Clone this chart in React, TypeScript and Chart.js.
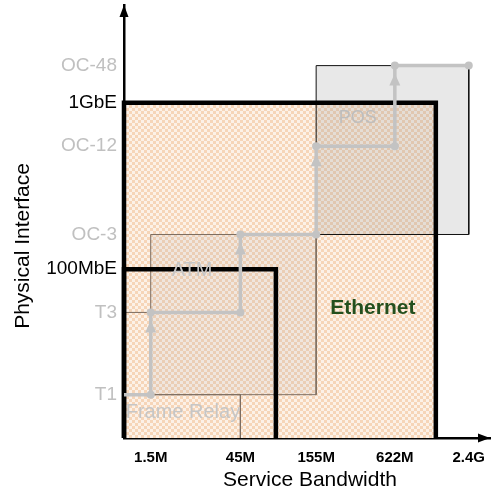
import React, { useEffect, useRef } from "react";
import { Chart, registerables } from "chart.js";

Chart.register(...registerables);

// ---- data ----
const bandwidthLabels = ["1.5M", "45M", "155M", "622M", "2.4G"];
const bandwidthValues = [7.3, 31.8, 52.5, 74, 94.2];

const interfaceLabels = ["T1", "T3", "100MbE", "OC-3", "OC-12", "1GbE", "OC-48"];
const interfaceValues = [10, 29, 39, 47, 67.4, 77.4, 86];
const interfaceIsEthernet = [false, false, true, false, false, true, false];

const ethernetMaxBandwidth = 85.2; // 1GbE service range
const fastEthernetMaxBandwidth = 41.5; // 100MbE service range

// upgrade path for legacy technologies: [bandwidth, interface]
const upgradePath: [string, string][] = [
  ["origin", "T1"],
  ["1.5M", "T1"],
  ["1.5M", "T3"],
  ["45M", "T3"],
  ["45M", "OC-3"],
  ["155M", "OC-3"],
  ["155M", "OC-12"],
  ["622M", "OC-12"],
  ["622M", "OC-48"],
  ["2.4G", "OC-48"],
];

const technologyNames = ["Ethernet", "ATM", "POS", "Frame Relay"];
const technologyLabelX = [68, 18.6, 63.9, 16.1];
const technologyLabelY = [30, 38.6, 73.9, 5.8];

// ---- helpers ----
const bw = (l: string) => (l === "origin" ? 0 : bandwidthValues[bandwidthLabels.indexOf(l)]);
const itf = (l: string) => (l === "origin" ? 0 : interfaceValues[interfaceLabels.indexOf(l)]);

const rectOpen = (x0: number, x1: number, y0: number, y1: number) => [
  { x: x0, y: y0 },
  { x: x0, y: y1 },
  { x: x1, y: y1 },
  { x: x1, y: y0 },
];
const rectClosed = (x0: number, x1: number, y0: number, y1: number) => [
  ...rectOpen(x0, x1, y0, y1),
  { x: x0, y: y0 },
];

const SANS = '"Liberation Sans", Arial, sans-serif';

function makeChecker(): CanvasPattern | string {
  const c = document.createElement("canvas");
  c.width = 6;
  c.height = 6;
  const g = c.getContext("2d");
  if (!g) return "#fbe8d8";
  g.fillStyle = "#fcf1e7";
  g.fillRect(0, 0, 6, 6);
  g.fillStyle = "#f6d5b8";
  g.fillRect(0, 0, 3, 3);
  g.fillRect(3, 3, 3, 3);
  return g.createPattern(c, "repeat") || "#fbe8d8";
}

const overlayPlugin = {
  id: "overlay",
  afterDatasetsDraw(chart: any) {
    const { ctx, scales } = chart;
    const xs = scales.x;
    const ys = scales.y;
    // arrow heads on the vertical steps of the upgrade path
    ctx.save();
    ctx.fillStyle = "#c3c3c3";
    for (let i = 1; i < upgradePath.length; i++) {
      const [ax, ay] = upgradePath[i - 1];
      const [bx, by] = upgradePath[i];
      if (ax === bx && itf(by) > itf(ay)) {
        const px = xs.getPixelForValue(bw(bx));
        const py = ys.getPixelForValue(itf(by));
        const tip = py + 8;
        ctx.beginPath();
        ctx.moveTo(px, tip);
        ctx.lineTo(px - 5.5, tip + 12);
        ctx.lineTo(px + 5.5, tip + 12);
        ctx.closePath();
        ctx.fill();
      }
    }
    // technology labels
    ctx.textAlign = "center";
    ctx.textBaseline = "middle";
    technologyNames.forEach((name, i) => {
      const px = xs.getPixelForValue(technologyLabelX[i]);
      const py = ys.getPixelForValue(technologyLabelY[i]);
      if (name === "Ethernet") {
        ctx.fillStyle = "#234f1e";
        ctx.font = `bold 21px ${SANS}`;
      } else if (name === "POS") {
        ctx.fillStyle = "#bdbdbd";
        ctx.font = `18px ${SANS}`;
      } else {
        ctx.fillStyle = "#c6c6c6";
        ctx.font = `20px ${SANS}`;
      }
      ctx.fillText(name, px, py);
    });
    ctx.restore();
  },
  afterDraw(chart: any) {
    const { ctx, chartArea } = chart;
    const { left, right, top, bottom } = chartArea;
    ctx.save();
    ctx.fillStyle = "#000";
    // y axis arrow
    ctx.beginPath();
    ctx.moveTo(left, top);
    ctx.lineTo(left - 4.5, top + 12);
    ctx.lineTo(left + 4.5, top + 12);
    ctx.closePath();
    ctx.fill();
    // x axis arrow
    ctx.beginPath();
    ctx.moveTo(right, bottom);
    ctx.lineTo(right - 12, bottom - 4.5);
    ctx.lineTo(right - 12, bottom + 4.5);
    ctx.closePath();
    ctx.fill();
    // axis titles
    ctx.font = `21px ${SANS}`;
    ctx.textAlign = "center";
    ctx.textBaseline = "middle";
    ctx.fillText("Service Bandwidth", 310, 480);
    ctx.translate(23, 246);
    ctx.rotate(-Math.PI / 2);
    ctx.fillText("Physical Interface", 0, 0);
    ctx.restore();
  },
};

export default function App() {
  const ref = useRef<HTMLCanvasElement | null>(null);

  useEffect(() => {
    if (!ref.current) return;
    const checker = makeChecker();
    const gbe = itf("1GbE");
    const fe = itf("100MbE");
    const line = (data: any[], extra: any) => ({
      type: "line",
      data,
      showLine: true,
      pointRadius: 0,
      pointHoverRadius: 0,
      borderWidth: 0,
      fill: false,
      tension: 0,
      clip: 12,
      ...extra,
    });

    const bottomToTop = [
      line(rectOpen(0, ethernetMaxBandwidth, 0, gbe), {
        backgroundColor: checker,
        borderColor: "transparent",
        fill: "origin",
      }),
      line(rectOpen(bw("155M"), bw("2.4G"), itf("OC-3"), itf("OC-48")), {
        backgroundColor: "rgba(150,150,150,0.22)",
        borderColor: "transparent",
        fill: { value: itf("OC-3") },
      }),
      line(rectClosed(bw("155M"), bw("2.4G"), itf("OC-3"), itf("OC-48")), {
        borderColor: "#111",
        borderWidth: 1,
      }),
      line(rectOpen(bw("1.5M"), bw("155M"), itf("T1"), itf("OC-3")), {
        backgroundColor: "rgba(160,160,160,0.13)",
        borderColor: "transparent",
        fill: { value: itf("T1") },
      }),
      line(rectClosed(bw("1.5M"), bw("155M"), itf("T1"), itf("OC-3")), {
        borderColor: "#7d6d60",
        borderWidth: 1,
      }),
      line(
        [
          { x: 0, y: itf("T3") },
          { x: bw("1.5M"), y: itf("T3") },
          { x: bw("1.5M"), y: itf("T1") },
          { x: bw("45M"), y: itf("T1") },
          { x: bw("45M"), y: 0 },
        ],
        { borderColor: "#7d6d60", borderWidth: 1 }
      ),
      line(rectOpen(0, ethernetMaxBandwidth, 0, gbe), {
        borderColor: "#000",
        borderWidth: 4.5,
        borderJoinStyle: "miter",
      }),
      line(rectOpen(0, fastEthernetMaxBandwidth, 0, fe), {
        borderColor: "#000",
        borderWidth: 4.5,
        borderJoinStyle: "miter",
      }),
      line(
        upgradePath.map(([b, i]) => ({ x: bw(b), y: itf(i) })),
        {
          borderColor: "#c3c3c3",
          borderWidth: 3.5,
          pointRadius: upgradePath.map((_, k) => (k === 0 ? 0 : 4)),
          pointBackgroundColor: "#c3c3c3",
          pointBorderWidth: 0,
        }
      ),
    ];

    const noPad = (s: any) => {
      s.paddingTop = 0;
      s.paddingBottom = 0;
      s.paddingLeft = 0;
      s.paddingRight = 0;
    };

    const chart = new Chart(ref.current, {
      type: "line",
      data: { datasets: bottomToTop.slice().reverse() as any },
      options: {
        responsive: false,
        animation: false,
        events: [],
        layout: { padding: { top: 5, right: 5, left: 0, bottom: 0 } },
        plugins: { legend: { display: false }, tooltip: { enabled: false } },
        scales: {
          x: {
            type: "linear",
            min: 0,
            max: 100,
            grid: { display: false, drawTicks: false },
            border: { display: true, color: "#000", width: 2.5 },
            afterBuildTicks: (s: any) => {
              s.ticks = bandwidthValues.map((v) => ({ value: v }));
            },
            afterFit: (s: any) => {
              s.height = 53;
              noPad(s);
            },
            ticks: {
              autoSkip: false,
              maxRotation: 0,
              padding: 11,
              color: "#000",
              font: { family: SANS, size: 15, weight: "bold" },
              callback: (_v: any, i: number) => bandwidthLabels[i],
            },
          },
          y: {
            type: "linear",
            min: 0,
            max: 100,
            grid: { display: false, drawTicks: false },
            border: { display: true, color: "#000", width: 2.5 },
            afterBuildTicks: (s: any) => {
              s.ticks = interfaceValues.map((v) => ({ value: v }));
            },
            afterFit: (s: any) => {
              s.width = 124;
              noPad(s);
            },
            ticks: {
              autoSkip: false,
              padding: 7,
              color: (c: any) => (interfaceIsEthernet[c.index] ? "#000" : "#c0c0c0"),
              font: { family: SANS, size: 19 },
              callback: (_v: any, i: number) => interfaceLabels[i],
            },
          },
        },
      },
      plugins: [overlayPlugin],
    } as any);
    return () => chart.destroy();
  }, []);

  return (
    <div style={{ position: "absolute", left: 0, top: 0, width: 495, height: 491, background: "#fff" }}>
      <canvas ref={ref} width={495} height={491} style={{ display: "block" }} />
    </div>
  );
}
